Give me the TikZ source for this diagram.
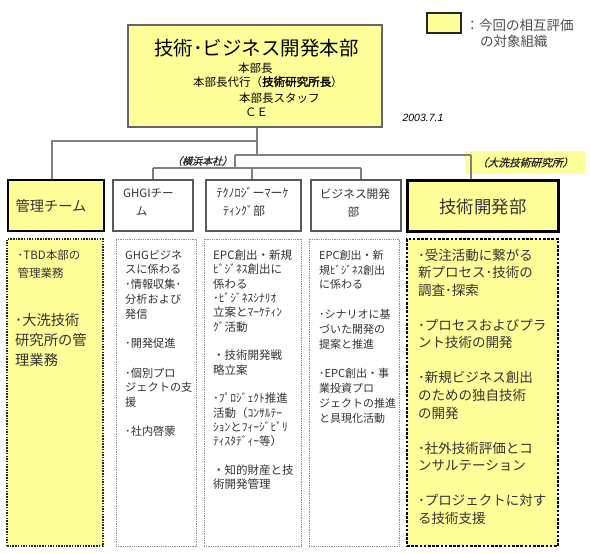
\documentclass[tikz,border=0pt]{standalone}
\usepackage{fontspec}
\setmainfont{Noto Sans CJK JP}
\newfontfamily\jp{Noto Sans CJK JP}
\newfontfamily\jpit[FakeSlant=0.3,FakeBold=1]{Noto Sans CJK JP}
\newfontfamily\jpbf[FakeBold=2]{Noto Sans CJK JP}
\newfontfamily\latin{Liberation Sans}
\newcommand\fsz[1]{\fontsize{#1}{#1}\selectfont}
\definecolor{ylw}{HTML}{FFFF99}
\definecolor{txt}{HTML}{333333}
\definecolor{lngray}{HTML}{808080}
\begin{document}
\begin{tikzpicture}[x=1pt,y=-1pt,
  conn/.style={draw=lngray, line width=1.3pt},
  hqbox/.style={draw=black!60, line width=1.4pt, fill=ylw, inner sep=0},
  hdrbox/.style={draw=black!65, line width=1.1pt, fill=white, inner sep=0, minimum height=51pt},
  hdrkey/.style={draw=black, line width=2.2pt, fill=ylw, inner sep=0, minimum height=51pt},
  hdrmain/.style={draw=black, line width=3pt, fill=ylw, inner sep=0, minimum height=51pt},
  colbox/.style={draw=black!45, line width=0.9pt, dash pattern=on 0.9pt off 0.9pt, fill=white, inner sep=0, minimum height=307pt},
  colkey/.style={draw=black!85, line width=1.5pt, dash pattern=on 1.5pt off 1.2pt, fill=ylw, inner sep=0, minimum height=307pt},
  colmain/.style={draw=black, line width=2.6pt, dash pattern=on 2.6pt off 1.6pt, fill=ylw, inner sep=0, minimum height=307pt},
  tx/.style={inner sep=0, text=txt},
  legendbox/.style={draw=black!85, line width=1.5pt, fill=ylw, inner sep=0},
]
\useasboundingbox (0,0) rectangle (590,554);

% ---- top box ----
\node[hqbox, minimum width=254pt, minimum height=102pt] (hq) at (255,76) {};
\node[inner sep=0, font=\jp\fsz{19.5}] (hqt) at (256.5,48.3) {技術･ビジネス開発本部};
\node[inner sep=0, anchor=west, font=\jp\fsz{11.5}] (hq1) at (238,68.3) {本部長};
\node[inner sep=0, anchor=west, font=\jp\fsz{11.5}] (hq2) at (193,81.7) {本部長代行（{\jpbf 技術研究所長}）};
\node[inner sep=0, anchor=west, font=\jp\fsz{11.5}] (hq3) at (239,98.3) {本部長スタッフ};
\node[inner sep=0, anchor=west, font=\jp\fsz{11.5}] (hq4) at (245,112.7) {ＣＥ};

% ---- legend ----
\node[legendbox, minimum width=34pt, minimum height=20pt] (lg) at (444,23) {};
\node[inner sep=0, anchor=west, text=black!70, font=\jp\fsz{13.5}] (lg1) at (465.5,25) {：今回の相互評価};
\node[inner sep=0, anchor=west, text=black!70, font=\jp\fsz{13.5}] (lg2) at (480,41.7) {の対象組織};

% ---- date ----
\node[inner sep=0, font=\latin\itshape\fsz{10.5}] (date) at (423,117.5) {2003.7.1};

% ---- location label backgrounds ----
\node[inner sep=0, fill=ylw, minimum width=120pt, minimum height=23.3pt] (oarai) at (525,162.3) {};

% ---- header boxes ----
\node[hdrkey, minimum width=96pt] (kanri) at (56,205.5) {};
\node[hdrbox, minimum width=80pt] (ghgi) at (153,205.5) {};
\node[hdrbox, minimum width=95pt] (tech) at (253.5,205.5) {};
\node[hdrbox, minimum width=90pt] (biz) at (356,205.5) {};
\node[hdrmain, minimum width=151pt] (gk) at (482.5,205.5) {};

% ---- connectors ----
\coordinate (j1) at (257,141);
\coordinate (j2) at (257,155);
\coordinate (k1) at (52,141);
\coordinate (j3) at (235,155);
\coordinate (j4) at (471,155);
\coordinate (j5) at (235,168);
\coordinate (h1) at (153,168);
\coordinate (h2) at (252,168);
\coordinate (h3) at (361,168);
\draw[conn] (hq.south -| j1) -- (j2);
\draw[conn] (j1) -- (k1) -- (k1 |- kanri.north);
\draw[conn] (j3) -- (j4);
\draw[conn] (j4) -- (j4 |- gk.north);
\draw[conn] (j3) -- (j5);
\draw[conn] (h1) -- (h3);
\draw[conn] (h1) -- (h1 |- ghgi.north);
\draw[conn] (h2) -- (h2 |- tech.north);
\draw[conn] (h3) -- (h3 |- biz.north);

% ---- location labels ----
\node[inner sep=0, text=black!85, font=\jpit\fsz{10}] (yoko) at (202,161) {（横浜本社）};
\node[inner sep=0, text=black!85, font=\jpit\fsz{10.7}] (oaraitx) at (525,162.5) {（大洗技術研究所）};

% ---- header texts ----
\node[tx, font=\jp\fsz{14.2}] (kanrit) at (51,206) {管理チーム};
\node[tx, font=\jp\fsz{11.5}] (ghgit1) at (148.4,193.5) {GHGIチー};
\node[tx, font=\jp\fsz{11.5}] (ghgit2) at (141.7,211.5) {ム};
\node[tx, font=\jp\fsz{12}] (techt1) at (252.5,193) {ﾃｸﾉﾛｼﾞーﾏーｹ};
\node[tx, font=\jp\fsz{12}] (techt2) at (244,211) {ﾃｨﾝｸﾞ部};
\node[tx, font=\jp\fsz{11.7}] (bizt1) at (355,194.5) {ビジネス開発};
\node[tx, font=\jp\fsz{11.7}] (bizt2) at (353.5,212) {部};
\node[tx, font=\jp\fsz{17.4}] (gkt) at (483,206.7) {技術開発部};

% ---- column boxes ----
\node[colkey, minimum width=96pt] (c1) at (55,392.5) {};
\node[colbox, minimum width=80pt] (c2) at (156,392.5) {};
\node[colbox, minimum width=97.5pt] (c3) at (252.75,392.5) {};
\node[colbox, minimum width=90.5pt] (c4) at (354.25,392.5) {};
\node[colmain, minimum width=151pt] (c5) at (482.5,392.5) {};

% ---- column texts ----
\foreach \yy/\tx in {0/･TBD本部の, 1/管理業務}
  \node[tx, anchor=base west, font=\jp\fsz{11.5}] (c1a-\yy) at (17.5,{255+4.37+\yy*17.7}) {\tx};
\foreach \yy/\tx in {0/･大洗技術, 1/研究所の管, 2/理業務}
  \node[tx, anchor=base west, font=\jp\fsz{14.3}] (c1b-\yy) at (15,{320+5.43+\yy*20}) {\tx};
\foreach \yy/\tx in {0/GHGビジネ, 1/スに係わる, 2/･情報収集･, 3/分析および, 4/発信, 6/･開発促進, 8/･個別プロ, 9/ジェクトの支, 10/援, 12/･社内啓蒙}
  \node[tx, anchor=base west, font=\jp\fsz{11.2}] (c2-\yy) at (125,{255+4.26+\yy*14.72}) {\tx};
\foreach \yy/\tx in {0/EPC創出・新規, 1/ﾋﾞｼﾞﾈｽ創出に, 2/係わる, 3/･ﾋﾞｼﾞﾈｽｼﾅﾘｵ, 4/立案とﾏｰｹﾃｨﾝ, 5/ｸﾞ活動, 7/・技術開発戦, 8/略立案, 10/･ﾌﾟﾛｼﾞｪｸﾄ推進, 11/活動（ｺﾝｻﾙﾃｰ, 12/ｼｮﾝとﾌｨｰｼﾞﾋﾞﾘ, 13/ﾃｨｽﾀﾃﾞｨｰ等）, 15/・知的財産と技, 16/術開発管理}
  \node[tx, anchor=base west, font=\jp\fsz{11.5}] (c3-\yy) at (213,{255+4.37+\yy*14.33}) {\tx};
\foreach \yy/\tx in {0/EPC創出・新, 1/規ﾋﾞｼﾞﾈｽ創出, 2/に係わる, 4/･シナリオに基, 5/づいた開発の, 6/提案と推進, 8/･EPC創出・事, 9/業投資プロ, 10/ジェクトの推進, 11/と具現化活動}
  \node[tx, anchor=base west, font=\jp\fsz{11}] (c4-\yy) at (319,{255+4.18+\yy*14.85}) {\tx};
\foreach \yy/\tx in {0/･受注活動に繋がる, 1/新プロセス･技術の, 2/調査･探索, 4/･プロセスおよびプラ, 5/ント技術の開発, 7/･新規ビジネス創出, 8/のための独自技術, 9/の開発, 11/･社外技術評価とコ, 12/ンサルテーション, 14/･プロジェクトに対す, 15/る技術支援}
  \node[tx, anchor=base west, font=\jp\fsz{13.5}] (c5-\yy) at (418,{255+5.13+\yy*17.55}) {\tx};
\end{tikzpicture}
\end{document}
